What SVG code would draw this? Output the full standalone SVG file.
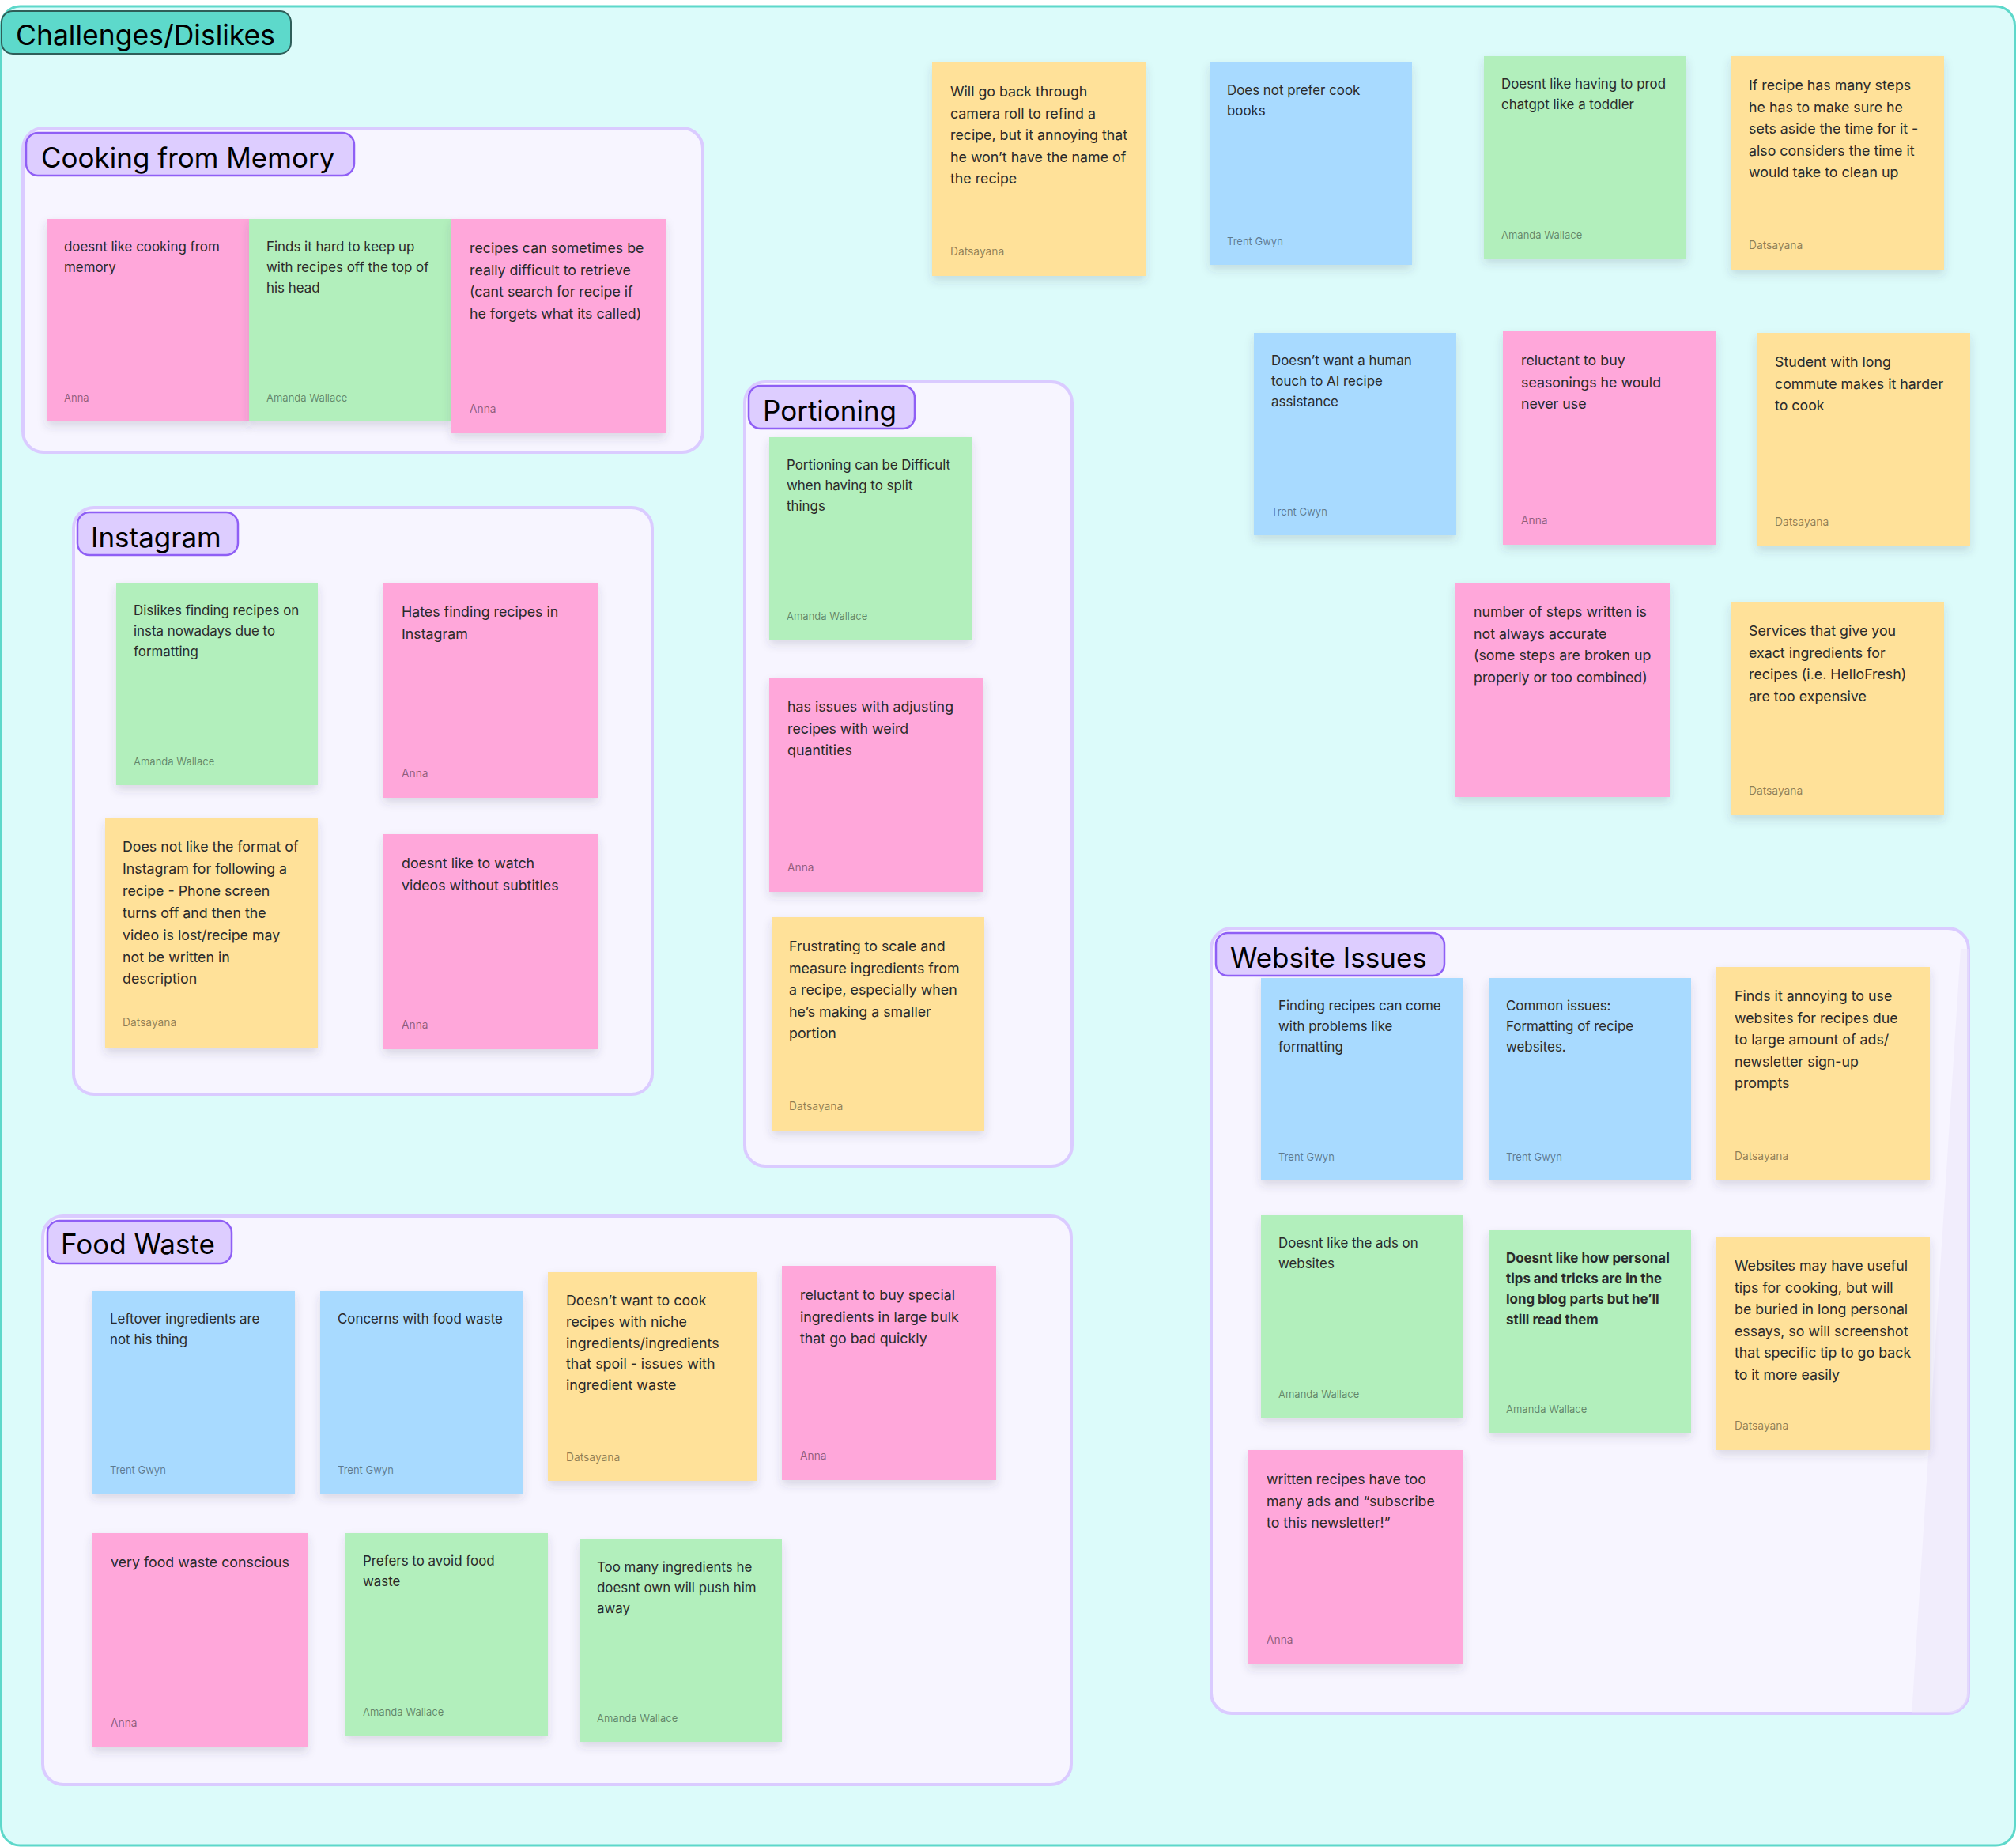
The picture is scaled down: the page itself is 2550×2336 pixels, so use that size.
<svg xmlns="http://www.w3.org/2000/svg" width="2550" height="2336" viewBox="0 0 2550 2336">
<defs>
<filter id="sh" x="-15%" y="-15%" width="130%" height="140%"><feDropShadow dx="0" dy="6" stdDeviation="6" flood-color="#3a3a5a" flood-opacity="0.16"/></filter>
<clipPath id="wsclip"><rect x="1532" y="1174" width="958" height="993" rx="26"/></clipPath>
<style>
text{font-family:Inter,'Noto Sans','Liberation Sans',sans-serif}
.frame{fill:#dcfbfa;stroke:#5dd8ca;stroke-width:3}
.title{fill:#5dd9cb;stroke:#2f5e59;stroke-width:2}
.grp{fill:#f7f5ff;stroke:#dacbff;stroke-width:4}
.lbl{fill:#ddcdff;stroke:#8f5ff5;stroke-width:2.5}
.lt{font-size:35px;fill:#000}
.tt{font-size:35.5px;fill:#000}
.pk{fill:#ffa7da}.gr{fill:#b2efbc}.bl{fill:#a8daff}.yl{fill:#ffe199}
.s .b{font-size:16.9px;fill:#2a2a2a}
.s .a{font-size:13px;fill:#000;fill-opacity:.45}
.l .b{font-size:17.8px;fill:#2a2a2a}
.l .a{font-size:13.8px;fill:#000;fill-opacity:.45}
.bold{font-weight:700}
</style>
</defs>
<rect width="2550" height="2336" fill="#ffffff"/>
<rect class="frame" x="1.5" y="8" width="2547" height="2326" rx="24"/>
<g id="title"><rect class="title" x="2" y="14" width="366" height="54" rx="14"/><text class="tt" x="20" y="57">Challenges/Dislikes</text></g>

<!-- Section frames -->
<g id="sec-cooking"><rect class="grp" x="29" y="162" width="860" height="410" rx="26"/><rect class="lbl" x="33" y="168" width="415" height="54" rx="15"/><text class="lt" x="52" y="212">Cooking from Memory</text></g>
<g id="sec-instagram"><rect class="grp" x="93" y="642" width="732" height="742" rx="26"/><rect class="lbl" x="98" y="648" width="203" height="54" rx="15"/><text class="lt" x="115" y="692">Instagram</text></g>
<g id="sec-portioning"><rect class="grp" x="942" y="483" width="414" height="992" rx="26"/><rect class="lbl" x="947" y="488" width="210" height="54" rx="15"/><text class="lt" x="965" y="532">Portioning</text></g>
<g id="sec-website"><rect class="grp" x="1532" y="1174" width="958" height="993" rx="26"/><polygon clip-path="url(#wsclip)" points="2480,1200 2492,1200 2492,2170 2418,2170" fill="#ece6fa" opacity="0.5"/><rect class="lbl" x="1538" y="1180" width="289" height="54" rx="15"/><text class="lt" x="1556" y="1224">Website Issues</text></g>
<g id="sec-foodwaste"><rect class="grp" x="54" y="1538" width="1301" height="719" rx="26"/><rect class="lbl" x="60" y="1544" width="233" height="54" rx="15"/><text class="lt" x="77" y="1586">Food Waste</text></g>

<g id="connectors"/>

<!-- Cooking from Memory -->
<g id="n-cm1" class="s" transform="translate(59,277)"><rect class="pk" width="256" height="256" filter="url(#sh)"/><text class="b" x="22" y="41">doesnt like cooking from<tspan x="22" dy="26">memory</tspan></text><text class="a" x="22" y="231">Anna</text></g>
<g id="n-cm2" class="s" transform="translate(315,277)"><rect class="gr" width="256" height="256" filter="url(#sh)"/><text class="b" x="22" y="41">Finds it hard to keep up<tspan x="22" dy="26">with recipes off the top of</tspan><tspan x="22" dy="26">his head</tspan></text><text class="a" x="22" y="231">Amanda Wallace</text></g>
<g id="n-cm3" class="l" transform="translate(571,277)"><rect class="pk" width="271" height="271" filter="url(#sh)"/><text class="b" x="23" y="43">recipes can sometimes be<tspan x="23" dy="27.6">really difficult to retrieve</tspan><tspan x="23" dy="27.6">(cant search for recipe if</tspan><tspan x="23" dy="27.6">he forgets what its called)</tspan></text><text class="a" x="23" y="245">Anna</text></g>

<!-- Loose stickies -->
<g id="n-t1" class="l" transform="translate(1179,79)"><rect class="yl" width="270" height="270" filter="url(#sh)"/><text class="b" x="23" y="43">Will go back through<tspan x="23" dy="27.6">camera roll to refind a</tspan><tspan x="23" dy="27.6">recipe, but it annoying that</tspan><tspan x="23" dy="27.6">he won’t have the name of</tspan><tspan x="23" dy="27.6">the recipe</tspan></text><text class="a" x="23" y="244">Datsayana</text></g>
<g id="n-t2" class="s" transform="translate(1530,79)"><rect class="bl" width="256" height="256" filter="url(#sh)"/><text class="b" x="22" y="41">Does not prefer cook<tspan x="22" dy="26">books</tspan></text><text class="a" x="22" y="231">Trent Gwyn</text></g>
<g id="n-t3" class="s" transform="translate(1877,71)"><rect class="gr" width="256" height="256" filter="url(#sh)"/><text class="b" x="22" y="41">Doesnt like having to prod<tspan x="22" dy="26">chatgpt like a toddler</tspan></text><text class="a" x="22" y="231">Amanda Wallace</text></g>
<g id="n-t4" class="l" transform="translate(2189,71)"><rect class="yl" width="270" height="270" filter="url(#sh)"/><text class="b" x="23" y="43">If recipe has many steps<tspan x="23" dy="27.6">he has to make sure he</tspan><tspan x="23" dy="27.6">sets aside the time for it -</tspan><tspan x="23" dy="27.6">also considers the time it</tspan><tspan x="23" dy="27.6">would take to clean up</tspan></text><text class="a" x="23" y="244">Datsayana</text></g>
<g id="n-t5" class="s" transform="translate(1586,421)"><rect class="bl" width="256" height="256" filter="url(#sh)"/><text class="b" x="22" y="41">Doesn’t want a human<tspan x="22" dy="26">touch to AI recipe</tspan><tspan x="22" dy="26">assistance</tspan></text><text class="a" x="22" y="231">Trent Gwyn</text></g>
<g id="n-t6" class="l" transform="translate(1901,419)"><rect class="pk" width="270" height="270" filter="url(#sh)"/><text class="b" x="23" y="43">reluctant to buy<tspan x="23" dy="27.6">seasonings he would</tspan><tspan x="23" dy="27.6">never use</tspan></text><text class="a" x="23" y="244">Anna</text></g>
<g id="n-t7" class="l" transform="translate(2222,421)"><rect class="yl" width="270" height="270" filter="url(#sh)"/><text class="b" x="23" y="43">Student with long<tspan x="23" dy="27.6">commute makes it harder</tspan><tspan x="23" dy="27.6">to cook</tspan></text><text class="a" x="23" y="244">Datsayana</text></g>
<g id="n-t8" class="l" transform="translate(1841,737)"><rect class="pk" width="271" height="271" filter="url(#sh)"/><text class="b" x="23" y="43">number of steps written is<tspan x="23" dy="27.6">not always accurate</tspan><tspan x="23" dy="27.6">(some steps are broken up</tspan><tspan x="23" dy="27.6">properly or too combined)</tspan></text></g>
<g id="n-t9" class="l" transform="translate(2189,761)"><rect class="yl" width="270" height="270" filter="url(#sh)"/><text class="b" x="23" y="43">Services that give you<tspan x="23" dy="27.6">exact ingredients for</tspan><tspan x="23" dy="27.6">recipes (i.e. HelloFresh)</tspan><tspan x="23" dy="27.6">are too expensive</tspan></text><text class="a" x="23" y="244">Datsayana</text></g>

<!-- Instagram -->
<g id="n-ig1" class="s" transform="translate(147,737)"><rect class="gr" width="255" height="256" filter="url(#sh)"/><text class="b" x="22" y="41">Dislikes finding recipes on<tspan x="22" dy="26">insta nowadays due to</tspan><tspan x="22" dy="26">formatting</tspan></text><text class="a" x="22" y="231">Amanda Wallace</text></g>
<g id="n-ig2" class="l" transform="translate(485,737)"><rect class="pk" width="271" height="272" filter="url(#sh)"/><text class="b" x="23" y="43">Hates finding recipes in<tspan x="23" dy="27.6">Instagram</tspan></text><text class="a" x="23" y="246">Anna</text></g>
<g id="n-ig3" class="l" transform="translate(133,1035)"><rect class="yl" width="269" height="291" filter="url(#sh)"/><text class="b" x="22" y="42">Does not like the format of<tspan x="22" dy="27.9">Instagram for following a</tspan><tspan x="22" dy="27.9">recipe - Phone screen</tspan><tspan x="22" dy="27.9">turns off and then the</tspan><tspan x="22" dy="27.9">video is lost/recipe may</tspan><tspan x="22" dy="27.9">not be written in</tspan><tspan x="22" dy="27.9">description</tspan></text><text class="a" x="22" y="263">Datsayana</text></g>
<g id="n-ig4" class="l" transform="translate(485,1055)"><rect class="pk" width="271" height="272" filter="url(#sh)"/><text class="b" x="23" y="43">doesnt like to watch<tspan x="23" dy="27.6">videos without subtitles</tspan></text><text class="a" x="23" y="246">Anna</text></g>

<!-- Portioning -->
<g id="n-p1" class="s" transform="translate(973,553)"><rect class="gr" width="256" height="256" filter="url(#sh)"/><text class="b" x="22" y="41">Portioning can be Difficult<tspan x="22" dy="26">when having to split</tspan><tspan x="22" dy="26">things</tspan></text><text class="a" x="22" y="231">Amanda Wallace</text></g>
<g id="n-p2" class="l" transform="translate(973,857)"><rect class="pk" width="271" height="271" filter="url(#sh)"/><text class="b" x="23" y="43">has issues with adjusting<tspan x="23" dy="27.6">recipes with weird</tspan><tspan x="23" dy="27.6">quantities</tspan></text><text class="a" x="23" y="245">Anna</text></g>
<g id="n-p3" class="l" transform="translate(976,1160)"><rect class="yl" width="269" height="270" filter="url(#sh)"/><text class="b" x="22" y="43">Frustrating to scale and<tspan x="22" dy="27.6">measure ingredients from</tspan><tspan x="22" dy="27.6">a recipe, especially when</tspan><tspan x="22" dy="27.6">he’s making a smaller</tspan><tspan x="22" dy="27.6">portion</tspan></text><text class="a" x="22" y="244">Datsayana</text></g>

<!-- Website Issues -->
<g id="n-w1" class="s" transform="translate(1595,1237)"><rect class="bl" width="256" height="256" filter="url(#sh)"/><text class="b" x="22" y="41">Finding recipes can come<tspan x="22" dy="26">with problems like</tspan><tspan x="22" dy="26">formatting</tspan></text><text class="a" x="22" y="231">Trent Gwyn</text></g>
<g id="n-w2" class="s" transform="translate(1883,1237)"><rect class="bl" width="256" height="256" filter="url(#sh)"/><text class="b" x="22" y="41">Common issues:<tspan x="22" dy="26">Formatting of recipe</tspan><tspan x="22" dy="26">websites.</tspan></text><text class="a" x="22" y="231">Trent Gwyn</text></g>
<g id="n-w3" class="l" transform="translate(2171,1223)"><rect class="yl" width="270" height="270" filter="url(#sh)"/><text class="b" x="23" y="43">Finds it annoying to use<tspan x="23" dy="27.6">websites for recipes due</tspan><tspan x="23" dy="27.6">to large amount of ads/</tspan><tspan x="23" dy="27.6">newsletter sign-up</tspan><tspan x="23" dy="27.6">prompts</tspan></text><text class="a" x="23" y="244">Datsayana</text></g>
<g id="n-w4" class="s" transform="translate(1595,1537)"><rect class="gr" width="256" height="256" filter="url(#sh)"/><text class="b" x="22" y="41">Doesnt like the ads on<tspan x="22" dy="26">websites</tspan></text><text class="a" x="22" y="231">Amanda Wallace</text></g>
<g id="n-w5" class="s" transform="translate(1883,1556)"><rect class="gr" width="256" height="256" filter="url(#sh)"/><text class="b bold" x="22" y="41">Doesnt like how personal<tspan x="22" dy="26">tips and tricks are in the</tspan><tspan x="22" dy="26">long blog parts but he’ll</tspan><tspan x="22" dy="26">still read them</tspan></text><text class="a" x="22" y="231">Amanda Wallace</text></g>
<g id="n-w6" class="l" transform="translate(2171,1564)"><rect class="yl" width="270" height="270" filter="url(#sh)"/><text class="b" x="23" y="43">Websites may have useful<tspan x="23" dy="27.6">tips for cooking, but will</tspan><tspan x="23" dy="27.6">be buried in long personal</tspan><tspan x="23" dy="27.6">essays, so will screenshot</tspan><tspan x="23" dy="27.6">that specific tip to go back</tspan><tspan x="23" dy="27.6">to it more easily</tspan></text><text class="a" x="23" y="244">Datsayana</text></g>
<g id="n-w7" class="l" transform="translate(1579,1834)"><rect class="pk" width="271" height="271" filter="url(#sh)"/><text class="b" x="23" y="43">written recipes have too<tspan x="23" dy="27.6">many ads and “subscribe</tspan><tspan x="23" dy="27.6">to this newsletter!”</tspan></text><text class="a" x="23" y="245">Anna</text></g>

<!-- Food Waste -->
<g id="n-f1" class="s" transform="translate(117,1633)"><rect class="bl" width="256" height="256" filter="url(#sh)"/><text class="b" x="22" y="41">Leftover ingredients are<tspan x="22" dy="26">not his thing</tspan></text><text class="a" x="22" y="231">Trent Gwyn</text></g>
<g id="n-f2" class="s" transform="translate(405,1633)"><rect class="bl" width="256" height="256" filter="url(#sh)"/><text class="b" x="22" y="41">Concerns with food waste</text><text class="a" x="22" y="231">Trent Gwyn</text></g>
<g id="n-f3" class="l" transform="translate(693,1609)"><rect class="yl" width="264" height="264" filter="url(#sh)"/><text class="b" x="23" y="42">Doesn’t want to cook<tspan x="23" dy="26.8">recipes with niche</tspan><tspan x="23" dy="26.8">ingredients/ingredients</tspan><tspan x="23" dy="26.8">that spoil - issues with</tspan><tspan x="23" dy="26.8">ingredient waste</tspan></text><text class="a" x="23" y="239">Datsayana</text></g>
<g id="n-f4" class="l" transform="translate(989,1601)"><rect class="pk" width="271" height="271" filter="url(#sh)"/><text class="b" x="23" y="43">reluctant to buy special<tspan x="23" dy="27.6">ingredients in large bulk</tspan><tspan x="23" dy="27.6">that go bad quickly</tspan></text><text class="a" x="23" y="245">Anna</text></g>
<g id="n-f5" class="l" transform="translate(117,1939)"><rect class="pk" width="272" height="271" filter="url(#sh)"/><text class="b" x="23" y="43">very food waste conscious</text><text class="a" x="23" y="245">Anna</text></g>
<g id="n-f6" class="s" transform="translate(437,1939)"><rect class="gr" width="256" height="256" filter="url(#sh)"/><text class="b" x="22" y="41">Prefers to avoid food<tspan x="22" dy="26">waste</tspan></text><text class="a" x="22" y="231">Amanda Wallace</text></g>
<g id="n-f7" class="s" transform="translate(733,1947)"><rect class="gr" width="256" height="256" filter="url(#sh)"/><text class="b" x="22" y="41">Too many ingredients he<tspan x="22" dy="26">doesnt own will push him</tspan><tspan x="22" dy="26">away</tspan></text><text class="a" x="22" y="231">Amanda Wallace</text></g>
</svg>
